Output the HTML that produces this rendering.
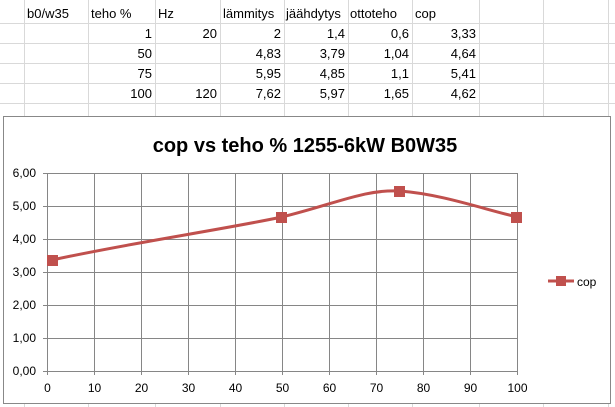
<!DOCTYPE html>
<html><head><meta charset="utf-8"><style>
body{margin:0;width:615px;height:407px;overflow:hidden;background:#fff;font-family:"Liberation Sans",sans-serif}
svg{position:absolute;left:0;top:0}
</style></head><body>
<svg width="615" height="407" xmlns="http://www.w3.org/2000/svg" font-family="Liberation Sans, sans-serif">
<g stroke="#d9d9d9" stroke-width="1">
<line x1="0" y1="23.5" x2="615" y2="23.5"/><line x1="0" y1="43.5" x2="615" y2="43.5"/>
<line x1="0" y1="63.5" x2="615" y2="63.5"/><line x1="0" y1="83.5" x2="615" y2="83.5"/>
<line x1="0" y1="103.5" x2="615" y2="103.5"/>
<line x1="24.5" y1="0" x2="24.5" y2="407"/><line x1="88.5" y1="0" x2="88.5" y2="407"/>
<line x1="155.5" y1="0" x2="155.5" y2="407"/><line x1="220.5" y1="0" x2="220.5" y2="407"/>
<line x1="284.5" y1="0" x2="284.5" y2="407"/><line x1="348.5" y1="0" x2="348.5" y2="407"/>
<line x1="412.5" y1="0" x2="412.5" y2="407"/><line x1="479.5" y1="0" x2="479.5" y2="407"/>
<line x1="543.5" y1="0" x2="543.5" y2="407"/><line x1="608.5" y1="0" x2="608.5" y2="407"/>
</g>
<g font-size="13" fill="#000">
<text x="27" y="18">b0/w35</text><text x="91" y="18">teho %</text><text x="158" y="18">Hz</text>
<text x="223" y="18">lämmitys</text><text x="286" y="18">jäähdytys</text><text x="350" y="18">ottoteho</text><text x="415" y="18">cop</text>
<g text-anchor="end">
<text x="152" y="38">1</text><text x="217" y="38">20</text><text x="281" y="38">2</text><text x="345" y="38">1,4</text><text x="409" y="38">0,6</text><text x="476" y="38">3,33</text>
<text x="152" y="58">50</text><text x="281" y="58">4,83</text><text x="345" y="58">3,79</text><text x="409" y="58">1,04</text><text x="476" y="58">4,64</text>
<text x="152" y="78">75</text><text x="281" y="78">5,95</text><text x="345" y="78">4,85</text><text x="409" y="78">1,1</text><text x="476" y="78">5,41</text>
<text x="152" y="98">100</text><text x="217" y="98">120</text><text x="281" y="98">7,62</text><text x="345" y="98">5,97</text><text x="409" y="98">1,65</text><text x="476" y="98">4,62</text>
</g></g>
<rect x="3.5" y="116.5" width="607" height="287" fill="#fff" stroke="#888"/>
<text x="305" y="152" font-size="20" font-weight="bold" text-anchor="middle">cop vs teho % 1255-6kW B0W35</text>
<g stroke="#868686" stroke-width="1">
<line x1="47" y1="173.5" x2="517" y2="173.5"/><line x1="47" y1="206.5" x2="517" y2="206.5"/>
<line x1="47" y1="239.5" x2="517" y2="239.5"/><line x1="47" y1="272.5" x2="517" y2="272.5"/>
<line x1="47" y1="305.5" x2="517" y2="305.5"/><line x1="47" y1="338.5" x2="517" y2="338.5"/>
<line x1="43" y1="371.5" x2="517" y2="371.5"/>
<line x1="47.5" y1="173" x2="47.5" y2="375"/><line x1="94.5" y1="173" x2="94.5" y2="375"/>
<line x1="141.5" y1="173" x2="141.5" y2="375"/><line x1="188.5" y1="173" x2="188.5" y2="375"/>
<line x1="235.5" y1="173" x2="235.5" y2="375"/><line x1="282.5" y1="173" x2="282.5" y2="375"/>
<line x1="329.5" y1="173" x2="329.5" y2="375"/><line x1="376.5" y1="173" x2="376.5" y2="375"/>
<line x1="423.5" y1="173" x2="423.5" y2="375"/><line x1="470.5" y1="173" x2="470.5" y2="375"/>
<line x1="517.5" y1="173" x2="517.5" y2="375"/>
<line x1="43" y1="173.5" x2="47" y2="173.5"/><line x1="43" y1="206.5" x2="47" y2="206.5"/><line x1="43" y1="239.5" x2="47" y2="239.5"/><line x1="43" y1="272.5" x2="47" y2="272.5"/><line x1="43" y1="305.5" x2="47" y2="305.5"/><line x1="43" y1="338.5" x2="47" y2="338.5"/>
</g>
<g font-size="12" fill="#000" text-anchor="end">
<text x="36" y="177">6,00</text><text x="36" y="210">5,00</text><text x="36" y="243">4,00</text><text x="36" y="276">3,00</text><text x="36" y="309">2,00</text><text x="36" y="342">1,00</text><text x="36" y="375">0,00</text>
</g>
<g font-size="12" fill="#000" text-anchor="middle">
<text x="47.5" y="392">0</text><text x="94.5" y="392">10</text><text x="141.5" y="392">20</text><text x="188.5" y="392">30</text><text x="235.5" y="392">40</text><text x="282.5" y="392">50</text><text x="329.5" y="392">60</text><text x="376.5" y="392">70</text><text x="423.5" y="392">80</text><text x="470.5" y="392">90</text><text x="517.5" y="392">100</text>
</g>
<path d="M52,260 C130,243 220,230 282,217 C335,204 365,189 400,191 C440,194 480,208 517,217" fill="none" stroke="#c0504d" stroke-width="3"/>
<g fill="#c0504d">
<rect x="47" y="255" width="11" height="11"/><rect x="276" y="212" width="11" height="11"/>
<rect x="394" y="186" width="11" height="11"/><rect x="511" y="212" width="11" height="11"/>
<line x1="548" y1="281" x2="574" y2="281" stroke="#c0504d" stroke-width="3"/>
<rect x="556" y="276" width="10" height="10"/>
</g>
<text x="577" y="286" font-size="12">cop</text>
</svg>
</body></html>
